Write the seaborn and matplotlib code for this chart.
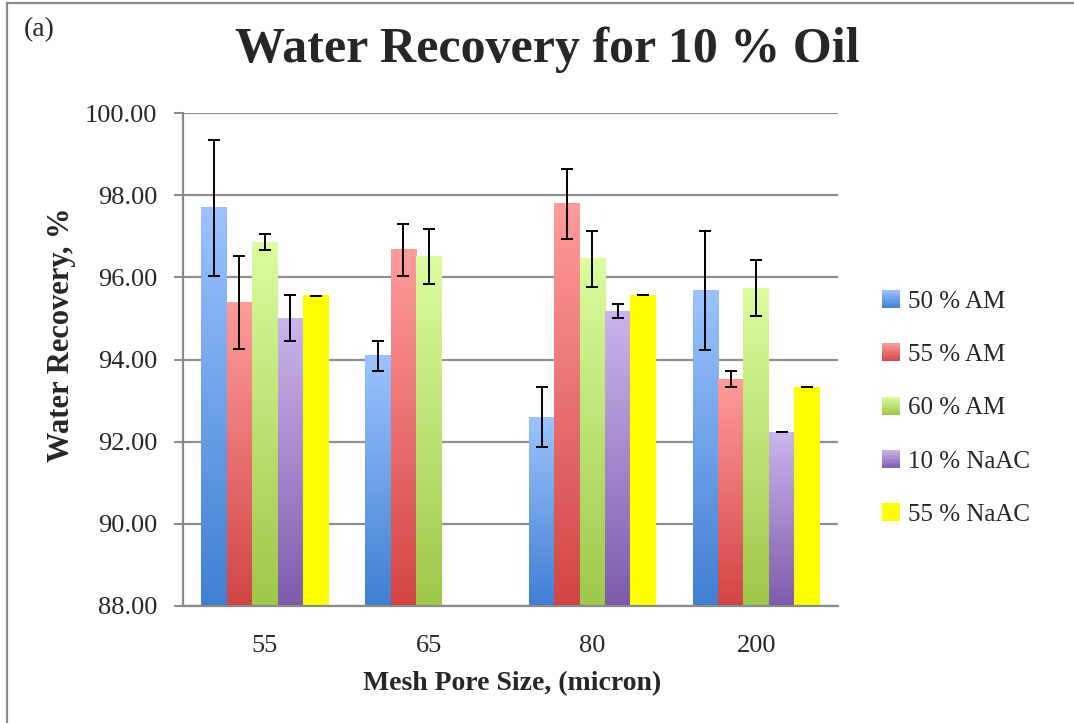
import numpy as np
import pandas as pd
import matplotlib
matplotlib.use("Agg")
import matplotlib.pyplot as plt
import seaborn as sns
from matplotlib.patches import Rectangle
from matplotlib.legend_handler import HandlerBase
from matplotlib.colors import to_rgb

# ---------------- data ----------------
categories = ["55", "65", "80", "200"]
series = ["50 % AM", "55 % AM", "60 % AM", "10 % NaAC", "55 % NaAC"]
am50 = [97.69, 94.09, 92.60, 95.67]
am50_err = [1.65, 0.36, 0.74, 1.45]
am55 = [95.38, 96.67, 97.79, 93.52]
am55_err = [1.13, 0.64, 0.85, 0.19]
am60 = [96.86, 96.50, 96.45, 95.74]
am60_err = [0.19, 0.67, 0.68, 0.67]
naac10 = [95.01, np.nan, 95.18, 92.23]
naac10_err = [0.56, np.nan, 0.17, 0.0]
naac55 = [95.55, np.nan, 95.56, 93.33]
naac55_err = [0.0, np.nan, 0.0, 0.0]
yticks = [88, 90, 92, 94, 96, 98, 100]

values = [am50, am55, am60, naac10, naac55]
errors = [am50_err, am55_err, am60_err, naac10_err, naac55_err]

top_colors = ["#9cc3ff", "#ff9c9b", "#dbfc9f", "#cbb5ec", "#ffff00"]
bottom_colors = ["#3f7fd2", "#d24444", "#9ec849", "#7e5bac", "#fffe00"]

rows = []
for s, vals in zip(series, values):
    for c, v in zip(categories, vals):
        rows.append({"mesh": c, "series": s, "recovery": v})
df = pd.DataFrame(rows)

# ---------------- style ----------------
sns.set_style("white")
plt.rcParams["font.family"] = ["Liberation Serif", "DejaVu Serif"]

W, H = 1074, 723
fig = plt.figure(figsize=(W / 100, H / 100), dpi=100)
ax = fig.add_axes([183 / W, 1 - 606 / H, 655 / W, 493 / H])

palette = dict(zip(series, bottom_colors))
sns.barplot(data=df, x="mesh", y="recovery", hue="series", order=categories,
            hue_order=series, palette=palette, saturation=1, width=0.776,
            errorbar=None, legend=False, ax=ax)

ax.set_ylim(88, 100)
ax.set_xlim(-0.5, 3.5)

def grad_img(c_top, c_bot, n=256):
    t = np.linspace(0, 1, n)[:, None]
    a = np.array(to_rgb(c_bot))
    b = np.array(to_rgb(c_top))
    img = a * (1 - t) + b * t
    return img[:, None, :]

ymin = ax.get_ylim()[0]
bars_info = []
for cont in ax.containers:
    for p in cont.patches:
        if np.isnan(p.get_height()) or p.get_height() == 0:
            continue
        fc = np.array(p.get_facecolor()[:3])
        idx = int(np.argmin([np.sum((fc - np.array(to_rgb(c))) ** 2) for c in bottom_colors]))
        x0, w = p.get_x(), p.get_width()
        y0 = max(p.get_y(), ymin)
        y1 = p.get_y() + p.get_height()
        ax.imshow(grad_img(top_colors[idx], bottom_colors[idx]),
                  extent=[x0, x0 + w, y0, y1], origin="lower", aspect="auto",
                  zorder=2, interpolation="bilinear")
        p.set_facecolor("none")
        p.set_edgecolor("none")
        cat = int(round(x0 + w / 2))
        bars_info.append((x0 + w / 2, y1, errors[idx][cat]))

xs = [b[0] for b in bars_info]
ys = [b[1] for b in bars_info]
es = [b[2] for b in bars_info]
ax.errorbar(xs, ys, yerr=es, fmt="none", ecolor="black", elinewidth=1.4,
            capsize=4.4, capthick=1.4, zorder=4)

ax.set_ylim(88, 100)
ax.set_xlim(-0.5, 3.5)

# grid & axes
ax.set_axisbelow(True)
ax.yaxis.grid(True, color="#8f8f8f", linewidth=1.6, zorder=0)
ax.xaxis.grid(False)
for side in ["top", "right"]:
    ax.spines[side].set_visible(False)
for side in ["left", "bottom"]:
    ax.spines[side].set_color("#8a8a8a")
    ax.spines[side].set_linewidth(1.6)

ax.set_yticks(yticks)
ax.set_yticklabels([f"{v:.2f}" for v in yticks])
ax.tick_params(axis="y", which="major", direction="out", length=6.5, width=1.4,
               color="#8a8a8a", pad=12, labelsize=19, left=True)
ax.tick_params(axis="x", length=0, pad=21, labelsize=19)

ax.set_xlabel("Mesh Pore Size, (micron)", fontsize=20, fontweight="bold")
ax.set_ylabel("Water Recovery, %", fontsize=22, fontweight="bold")
ax.xaxis.set_label_coords(0.502, -0.132)
ax.yaxis.set_label_coords(-0.164, 0.55)

# title and panel label
fig.text(547 / W, 1 - 50 / H, "Water Recovery for 10 % Oil", fontsize=36,
         fontweight="bold", ha="center", va="center")
fig.text(24 / W, 1 - 30 / H, "(a)", fontsize=20, ha="left", va="center")

# legend with gradient handles
class GradHandler(HandlerBase):
    def __init__(self, top, bot):
        super().__init__()
        self.top = np.array(to_rgb(top))
        self.bot = np.array(to_rgb(bot))

    def create_artists(self, legend, orig_handle, xdescent, ydescent, width,
                       height, fontsize, trans):
        arts = []
        n = 14
        for k in range(n):
            t = (k + 0.5) / n
            c = self.bot * (1 - t) + self.top * t
            r = Rectangle((-xdescent, -ydescent + height * k / n), width,
                          height / n * 1.05, facecolor=c, edgecolor="none",
                          transform=trans)
            arts.append(r)
        return arts

handles = [Rectangle((0, 0), 1, 1) for _ in series]
hmap = {h: GradHandler(t, b) for h, t, b in zip(handles, top_colors, bottom_colors)}
leg = fig.legend(handles, series, handler_map=hmap, loc="center left",
                 bbox_to_anchor=(864 / W, 1 - 408 / H), frameon=False,
                 fontsize=18, handlelength=0.74, handleheight=0.74,
                 handletextpad=0.34, labelspacing=1.22, borderpad=0.2)

# outer border of the figure
fig.patches.append(Rectangle((7 / W, -0.05), 1.2, 1.05 - 3 / H, transform=fig.transFigure,
                             facecolor="none", edgecolor="#8a8a8a", linewidth=1.6))

fig.savefig("out.png", dpi=100)
